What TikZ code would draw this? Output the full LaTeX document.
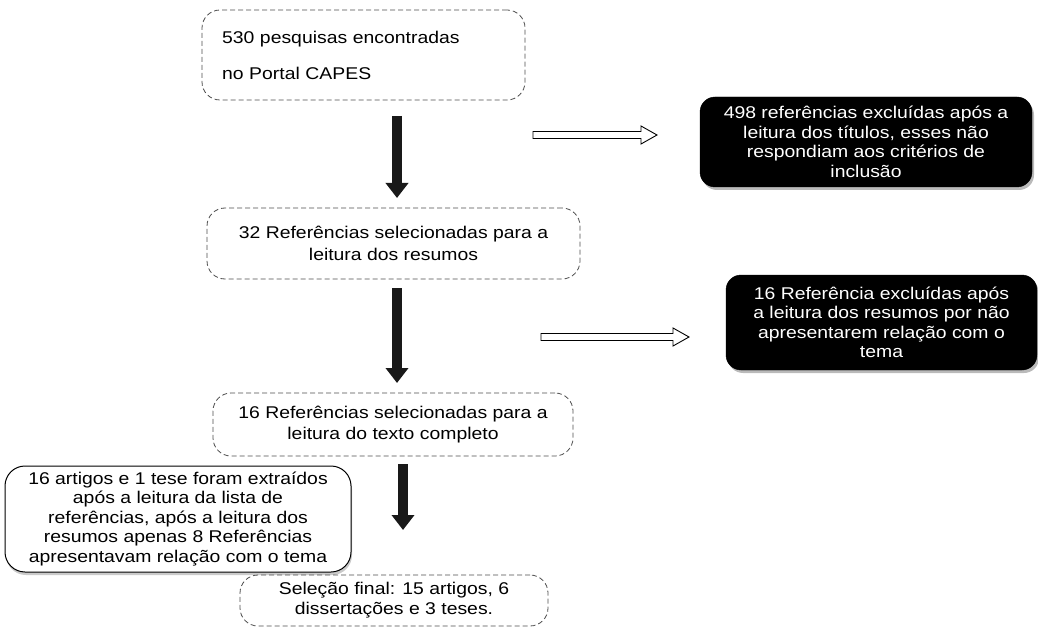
\documentclass[tikz,border=0pt]{standalone}
\usepackage{fontspec}
\setmainfont[FakeStretch=1.14]{Liberation Sans}
\usetikzlibrary{arrows.meta,shadows,calc}
\tikzset{
  dbox/.style={draw=black!70, dashed, dash pattern=on 5pt off 3pt, line width=0.8pt, rounded corners=18pt, align=center, inner sep=0pt},
  bbox/.style={fill=black, draw=black, text=white, rounded corners=15pt, align=center, inner sep=0pt,
     drop shadow={shadow xshift=2pt, shadow yshift=-3pt, opacity=0.45, fill=black!60}},
  wbox/.style={fill=white, draw=black, line width=1pt, rounded corners=20pt, align=center, inner sep=0pt,
     drop shadow={shadow xshift=1pt, shadow yshift=-3pt, opacity=0.35, fill=black!60}},
  downarrow/.style={draw=black!90, line width=10pt, -{Triangle[width=22pt,length=15pt]}},
  hollow/.style={draw=black, line width=0.9pt, fill=white},
  txt/.style={font=\fontsize{17}{19.5}\selectfont}
}
\begin{document}
\begin{tikzpicture}[x=1pt,y=-1pt]
\useasboundingbox (0,0) rectangle (1038,628);
% boxes
\node[dbox, minimum width=323pt, minimum height=90pt, align=left, text width=283pt,
      font=\fontsize{17}{36}\selectfont] (n1) at (363.5,55) {530 pesquisas encontradas\\no Portal CAPES};
\node[bbox, txt, minimum width=332pt, minimum height=90pt] (e1) at (866,142)
  {498 referências excluídas após a\\leitura dos títulos, esses não\\respondiam aos critérios de\\inclusão};
\node[dbox, txt, minimum width=373pt, minimum height=71pt, font=\fontsize{17}{22}\selectfont] (n2) at (393.5,243.5)
  {32 Referências selecionadas para a\\leitura dos resumos};
\node[bbox, txt, minimum width=311pt, minimum height=95pt] (e2) at (881.5,322.5)
  {16 Referência excluídas após\\a leitura dos resumos por não\\apresentarem relação com o\\tema};
\node[dbox, txt, minimum width=360pt, minimum height=63pt, font=\fontsize{17}{21}\selectfont] (n3) at (393,424.5)
  {16 Referências selecionadas para a\\leitura do texto completo};
\node[wbox, txt, minimum width=346pt, minimum height=106pt] (x1) at (178,519)
  {16 artigos e 1 tese foram extraídos\\após a leitura da lista de\\referências, após a leitura dos\\resumos apenas 8 Referências\\apresentavam relação com o tema};
\node[dbox, txt, minimum width=308pt, minimum height=51pt, font=\fontsize{17}{20}\selectfont] (n4) at (394,600.5)
  {Seleção final: 15 artigos, 6\\dissertações e 3 teses.};
% down arrows
\coordinate (d1s) at (397,116); \coordinate (d1e) at (397,198);
\coordinate (d2s) at (397,288); \coordinate (d2e) at (397,383);
\coordinate (d3s) at (403,464); \coordinate (d3e) at (403,530);
\draw[downarrow] (d1s) -- (d1e);
\draw[downarrow] (d2s) -- (d2e);
\draw[downarrow] (d3s) -- (d3e);
% hollow arrows
\coordinate (h1s) at (533,135); \coordinate (h1e) at (657,135);
\coordinate (h2s) at (541,337); \coordinate (h2e) at (689,337);
\foreach \s/\e in {h1s/h1e, h2s/h2e}{
  \draw[hollow] ($(\s)+(0,-3.5)$) -- ($(\e)+(-16,-3.5)$) -- ($(\e)+(-16,-9)$) -- (\e)
     -- ($(\e)+(-16,9)$) -- ($(\e)+(-16,3.5)$) -- ($(\s)+(0,3.5)$) -- cycle;
}
\end{tikzpicture}
\end{document}
